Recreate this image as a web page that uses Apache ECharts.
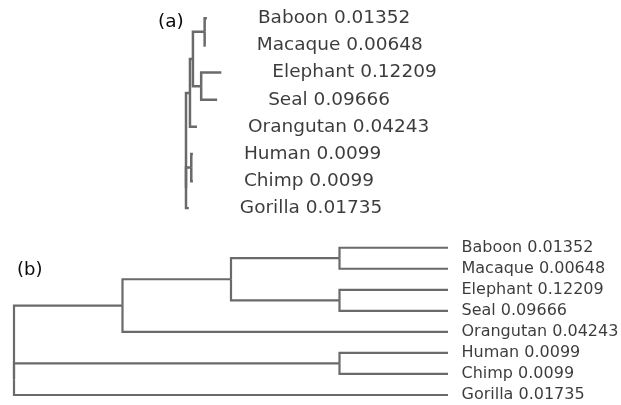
<!DOCTYPE html>
<html>
<head>
<meta charset="utf-8">
<script src="https://cdn.jsdelivr.net/npm/echarts@6/dist/echarts.min.js"></script>
<style>
html,body{margin:0;padding:0;background:#fff;}
#main{width:621px;height:405px;}
</style>
</head>
<body>
<div id="main"></div>
<script>
// 叶子在前，内部节点在后
var node_name   = ['Baboon','Macaque','Elephant','Seal','Orangutan','Human','Chimp','Gorilla','BM','ES','BMES','A','HC','root'];
var node_parent = ['BM','BM','ES','ES','A','HC','HC','root','BMES','BMES','A','root','root',''];
// 枝长（叶子的值就是标签上的数字，内部枝长从图上估计）
var branch_len  = [0.01352,0.00648,0.12209,0.09666,0.04243,0.0099,0.0099,0.01735,0.071,0.050,0.018,0.024,0.032,0];
var leaf_count  = 8;

var line_color = '#6a6a6a';
var text_color = '#0a0a0a';

function idx(name){ return node_name.indexOf(name); }

var children = {};
for (var i = 0; i < node_name.length; i++) {
    var p = node_parent[i];
    if (p) {
        if (!children[p]) { children[p] = []; }
        children[p].push(node_name[i]);
    }
}

// 纵坐标：叶子按顺序，内部节点取首尾子节点中点
var node_y = {};
function get_y(name){
    if (node_y[name] !== undefined) { return node_y[name]; }
    var i = idx(name);
    if (i < leaf_count) { node_y[name] = i; return i; }
    var c = children[name];
    var v = (get_y(c[0]) + get_y(c[c.length - 1])) / 2;
    node_y[name] = v;
    return v;
}

// 系统发育树：横坐标为累计枝长
var node_dist = {};
function set_dist(name, d){
    node_dist[name] = d;
    var c = children[name] || [];
    for (var k = 0; k < c.length; k++) {
        set_dist(c[k], d + branch_len[idx(c[k])]);
    }
}
set_dist('root', 0);

// 分支图：横坐标为 根高度 - 节点高度
var node_h = {};
function get_h(name){
    if (node_h[name] !== undefined) { return node_h[name]; }
    var c = children[name] || [];
    var h = 0;
    for (var k = 0; k < c.length; k++) { h = Math.max(h, get_h(c[k]) + 1); }
    node_h[name] = h;
    return h;
}
var root_h = get_h('root');

function build_lines(getx){
    var out = [];
    for (var i = 0; i < node_name.length; i++) {
        var p = node_parent[i];
        if (!p) { continue; }
        var n = node_name[i];
        out.push({coords: [[getx(p), get_y(p)], [getx(p), get_y(n)], [getx(n), get_y(n)]]});
    }
    return out;
}

function build_labels(getx){
    var out = [];
    for (var i = 0; i < leaf_count; i++) {
        out.push({name: node_name[i], value: [getx(node_name[i]), get_y(node_name[i]), branch_len[i]]});
    }
    return out;
}

var x_phylo = function(n){ return node_dist[n]; };
var x_clado = function(n){ return root_h - get_h(n); };

var myChart = echarts.init(document.getElementById('main'));
var option = {
    animation: false,
    backgroundColor: '#fff',
    title: [
        {text: '(a)', left: 153, top: 7, textStyle: {fontFamily: 'DejaVu Sans', fontSize: 18.5, fontWeight: 'normal', color: text_color, lineHeight: 20}},
        {text: '(b)', left: 12, top: 255, textStyle: {fontFamily: 'DejaVu Sans', fontSize: 18, fontWeight: 'normal', color: text_color, lineHeight: 20}}
    ],
    grid: [
        {left: 186, top: 18.3, width: 165, height: 190},
        {left: 14, top: 247.7, width: 434, height: 147.3}
    ],
    xAxis: [
        {type: 'value', gridIndex: 0, min: 0, max: 1, show: false},
        {type: 'value', gridIndex: 1, min: 0, max: root_h, show: false}
    ],
    yAxis: [
        {type: 'value', gridIndex: 0, min: 0, max: leaf_count - 1, inverse: true, show: false},
        {type: 'value', gridIndex: 1, min: 0, max: leaf_count - 1, inverse: true, show: false}
    ],
    series: [
        {
            type: 'lines', coordinateSystem: 'cartesian2d', xAxisIndex: 0, yAxisIndex: 0,
            polyline: true, silent: true,
            lineStyle: {color: line_color, width: 2.5, opacity: 1},
            data: build_lines(x_phylo)
        },
        {
            type: 'lines', coordinateSystem: 'cartesian2d', xAxisIndex: 1, yAxisIndex: 1,
            polyline: true, silent: true,
            lineStyle: {color: line_color, width: 2.2, opacity: 1},
            data: build_lines(x_clado)
        },
        {
            type: 'scatter', xAxisIndex: 0, yAxisIndex: 0, symbolSize: 0, silent: true,
            label: {show: true, position: 'right', distance: 51, fontFamily: 'DejaVu Sans', fontSize: 18.5, color: text_color,
                formatter: function(p){ return p.name + ' ' + p.value[2]; }},
            data: build_labels(x_phylo)
        },
        {
            type: 'scatter', xAxisIndex: 1, yAxisIndex: 1, symbolSize: 0, silent: true,
            label: {show: true, position: 'right', distance: 13.5, fontFamily: 'DejaVu Sans', fontSize: 16, color: text_color,
                formatter: function(p){ return p.name + ' ' + p.value[2]; }},
            data: build_labels(x_clado)
        }
    ]
};
myChart.setOption(option);
</script>
</body>
</html>
